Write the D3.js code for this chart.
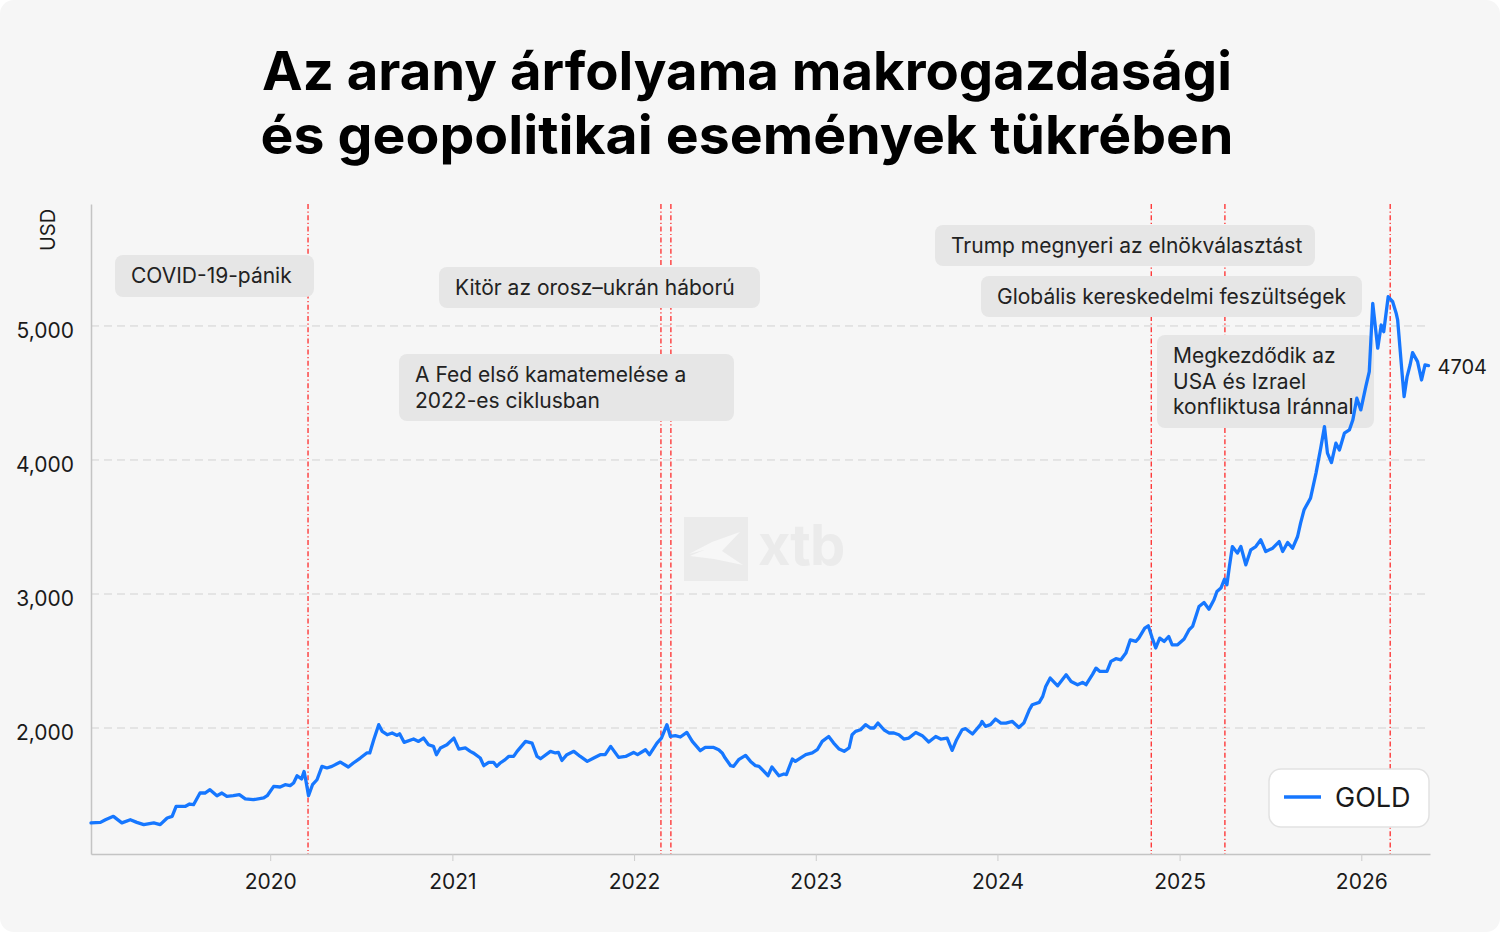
<!DOCTYPE html>
<html>
<head>
<meta charset="utf-8">
<script src="https://cdn.jsdelivr.net/npm/d3@7"></script>
<style>
  html, body { margin: 0; padding: 0; background: #ffffff; }
  svg { display: block; font-family: Inter, "Noto Sans", sans-serif; }
</style>
</head>
<body>
<svg id="chart" width="1500" height="932"></svg>
<script>
// weekly-ish gold closes
var dates = [
  '2019-01-06','2019-01-25','2019-02-04','2019-02-20','2019-03-09','2019-03-26','2019-04-08','2019-04-22',
  '2019-05-12','2019-05-25','2019-06-08','2019-06-18','2019-06-26','2019-07-14','2019-07-23','2019-07-31',
  '2019-08-13','2019-08-23','2019-09-02','2019-09-16','2019-09-26','2019-10-06','2019-10-19','2019-10-31',
  '2019-11-12','2019-11-28','2019-12-19','2019-12-26','2020-01-08','2020-01-21','2020-01-31','2020-02-10',
  '2020-02-17','2020-02-24','2020-03-04','2020-03-09','2020-03-13','2020-03-18','2020-03-26','2020-04-04',
  '2020-04-14','2020-04-24','2020-05-04','2020-05-21','2020-06-06','2020-06-16','2020-06-30','2020-07-13',
  '2020-07-19','2020-07-27','2020-08-06','2020-08-13','2020-08-23','2020-09-02','2020-09-12','2020-09-17',
  '2020-09-26','2020-10-15','2020-10-25','2020-11-04','2020-11-14','2020-11-24','2020-11-30','2020-12-08',
  '2020-12-21','2021-01-04','2021-01-14','2021-01-27','2021-02-06','2021-02-12','2021-02-26','2021-03-05',
  '2021-03-15','2021-03-25','2021-03-31','2021-04-07','2021-04-17','2021-04-24','2021-05-04','2021-05-11',
  '2021-05-28','2021-06-10','2021-06-20','2021-06-27','2021-07-17','2021-07-27','2021-08-02','2021-08-09',
  '2021-08-19','2021-09-02','2021-09-15','2021-09-29','2021-10-12','2021-10-25','2021-11-04','2021-11-15',
  '2021-12-01','2021-12-15','2021-12-31','2022-01-08','2022-01-24','2022-02-01','2022-02-16','2022-02-25',
  '2022-03-08','2022-03-15','2022-03-25','2022-04-04','2022-04-17','2022-04-28','2022-05-14','2022-05-24',
  '2022-06-10','2022-06-20','2022-06-27','2022-07-03','2022-07-14','2022-07-20','2022-07-30','2022-08-13',
  '2022-08-23','2022-09-02','2022-09-09','2022-09-19','2022-09-27','2022-10-05','2022-10-19','2022-10-29',
  '2022-11-03','2022-11-15','2022-11-21','2022-12-01','2022-12-12','2022-12-25','2023-01-04','2023-01-14',
  '2023-01-27','2023-02-06','2023-02-17','2023-02-27','2023-03-09','2023-03-15','2023-03-22','2023-04-01',
  '2023-04-11','2023-04-21','2023-04-28','2023-05-06','2023-05-18','2023-05-28','2023-06-07','2023-06-17',
  '2023-06-27','2023-07-07','2023-07-21','2023-08-03','2023-08-16','2023-08-30','2023-09-09','2023-09-22',
  '2023-10-02','2023-10-11','2023-10-22','2023-10-29','2023-11-12','2023-11-28','2023-12-01','2023-12-08',
  '2023-12-18','2023-12-28','2024-01-08','2024-01-18','2024-01-31','2024-02-13','2024-02-23','2024-03-05',
  '2024-03-11','2024-03-25','2024-04-01','2024-04-07','2024-04-16','2024-05-01','2024-05-18','2024-05-28',
  '2024-06-10','2024-06-20','2024-06-27','2024-07-10','2024-07-17','2024-07-25','2024-08-08','2024-08-16',
  '2024-08-26','2024-09-05','2024-09-15','2024-09-24','2024-10-05','2024-10-11','2024-10-23','2024-10-30',
  '2024-11-07','2024-11-14','2024-11-22','2024-12-01','2024-12-10','2024-12-17','2024-12-28','2025-01-10',
  '2025-01-20','2025-01-27','2025-02-09','2025-02-19','2025-03-01','2025-03-11','2025-03-17','2025-03-25',
  '2025-04-01','2025-04-06','2025-04-11','2025-04-17','2025-04-27','2025-05-04','2025-05-14','2025-05-24',
  '2025-06-03','2025-06-13','2025-06-23','2025-07-07','2025-07-20','2025-07-27','2025-08-06','2025-08-16',
  '2025-08-26','2025-09-01','2025-09-08','2025-09-21','2025-10-02','2025-10-12','2025-10-19','2025-10-25',
  '2025-11-02','2025-11-11','2025-11-18','2025-11-28','2025-12-08','2025-12-15','2025-12-23','2025-12-31',
  '2026-01-10','2026-01-17','2026-01-24','2026-02-03','2026-02-10','2026-02-15','2026-02-24','2026-03-05',
  '2026-03-12','2026-03-15','2026-03-25','2026-03-28','2026-04-03','2026-04-09','2026-04-14','2026-04-24',
  '2026-05-02','2026-05-09','2026-05-16'
];
var gold = [
  1292,1296,1316,1341,1292,1316,1296,1279,
  1292,1279,1329,1341,1415,1415,1433,1428,
  1515,1515,1540,1495,1515,1490,1495,1503,
  1471,1465,1478,1495,1565,1560,1577,1570,
  1590,1644,1620,1676,1602,1495,1577,1614,
  1714,1702,1714,1746,1709,1739,1776,1814,
  1814,1913,2025,1975,1950,1963,1945,1957,
  1893,1918,1900,1925,1875,1863,1801,1851,
  1875,1925,1843,1851,1826,1814,1776,1719,
  1743,1743,1714,1739,1764,1788,1788,1826,
  1900,1888,1788,1771,1826,1814,1818,1758,
  1801,1826,1788,1751,1776,1801,1801,1863,
  1781,1788,1818,1801,1838,1801,1888,1925,
  2025,1937,1943,1933,1967,1900,1831,1855,
  1855,1838,1814,1776,1719,1714,1764,1796,
  1751,1719,1714,1676,1644,1709,1644,1657,
  1652,1769,1751,1776,1801,1814,1838,1900,
  1937,1888,1843,1826,1851,1950,1975,1987,
  2025,2000,2000,2037,1987,1963,1963,1950,
  1918,1925,1967,1943,1896,1937,1918,1925,
  1833,1913,1987,1995,1955,2025,2049,2012,
  2025,2067,2037,2037,2049,2004,2037,2136,
  2174,2191,2236,2310,2373,2315,2397,2347,
  2323,2340,2323,2400,2447,2422,2422,2497,
  2517,2509,2559,2658,2646,2671,2746,2763,
  2671,2597,2671,2646,2683,2621,2621,2664,
  2733,2758,2907,2937,2887,2957,3019,3044,
  3110,3069,3205,3354,3305,3354,3218,3330,
  3354,3404,3317,3342,3391,3317,3384,3342,
  3429,3529,3628,3715,3902,4100,4249,4051,
  3981,4125,4075,4200,4224,4299,4461,4374,
  4547,4659,5169,4834,5007,4957,5218,5181,
  5095,5045,4597,4473,4622,4709,4801,4734,
  4597,4709,4704
];
var seriesName = 'GOLD';
var lastLabel = '4704';

var yTicks = [2000, 3000, 4000, 5000];
var xTicks = ['2020', '2021', '2022', '2023', '2024', '2025', '2026'];

var eventDates = ['2020-03-17', '2022-02-24', '2022-03-16', '2024-11-05', '2025-04-02', '2026-02-28'];
var eventLabels = [
  ['COVID-19-pánik'],
  ['Kitör az orosz–ukrán háború'],
  ['A Fed első kamatemelése a', '2022-es ciklusban'],
  ['Trump megnyeri az elnökválasztást'],
  ['Globális kereskedelmi feszültségek'],
  ['Megkezdődik az', 'USA és Izrael', 'konfliktusa Iránnal']
];
var titleLines = ['Az arany árfolyama makrogazdasági', 'és geopolitikai események tükrében'];

// layout of the note boxes (pixels), same order as the events
var noteBoxes = [
  { x: 115, y: 255, w: 199, h: 42 },
  { x: 439, y: 267, w: 321, h: 41 },
  { x: 399, y: 354, w: 335, h: 67 },
  { x: 935, y: 225, w: 380, h: 41 },
  { x: 981, y: 276, w: 381, h: 41 },
  { x: 1157, y: 335, w: 217, h: 93 }
];

var parse = d3.timeParse('%Y-%m-%d');
var data = dates.map(function (d, i) { return { date: parse(d), value: gold[i] }; });

var svg = d3.select('#chart');
var plot = { left: 91, right: 1430, top: 204, bottom: 854 };

// card background
svg.append('rect')
  .attr('x', 0).attr('y', 0).attr('width', 1500).attr('height', 932)
  .attr('rx', 14).attr('fill', '#f6f6f6');

// title
var title = svg.append('g').attr('class', 'title');
var titleWidths = [970, 973];
titleLines.forEach(function (t, i) {
  title.append('text')
    .attr('x', 747).attr('y', 90 + i * 64)
    .attr('text-anchor', 'middle')
    .attr('font-size', 54).attr('font-weight', 700)
    .attr('fill', '#000')
    .attr('textLength', titleWidths[i])
    .attr('lengthAdjust', 'spacingAndGlyphs')
    .text(t);
});

var x = d3.scaleTime()
  .domain([parse('2019-01-06'), parse('2026-05-19')])
  .range([plot.left, plot.right]);
var y = d3.scaleLinear()
  .domain([1060, 5910])
  .range([plot.bottom, plot.top]);

// grid
svg.append('g').selectAll('line').data(yTicks).enter().append('line')
  .attr('x1', plot.left).attr('x2', plot.right)
  .attr('y1', function (d) { return y(d); })
  .attr('y2', function (d) { return y(d); })
  .attr('stroke', '#d2d2d2').attr('stroke-width', 1)
  .attr('stroke-dasharray', '8,5');

// watermark
var wm = svg.append('g').attr('class', 'watermark');
wm.append('rect').attr('x', 684).attr('y', 517).attr('width', 64).attr('height', 64).attr('fill', '#ebebeb');
wm.append('polygon')
  .attr('points', '689,554 712,542 740,532 722,551 743,565 714,559 690,556 704,550')
  .attr('fill', '#f7f7f7');
wm.append('text').attr('x', 758).attr('y', 565)
  .attr('font-size', 56).attr('font-weight', 700).attr('fill', '#ebebeb')
  .attr('letter-spacing', -1)
  .text('xtb');

// axes
var xAxis = d3.axisBottom(x)
  .tickValues(xTicks.map(function (t) { return parse(t + '-01-01'); }))
  .tickFormat(d3.timeFormat('%Y'))
  .tickSizeInner(7).tickSizeOuter(0).tickPadding(13);
var gx = svg.append('g').attr('transform', 'translate(0,' + plot.bottom + ')').call(xAxis);
gx.select('.domain').attr('stroke', '#c4c4c4').attr('stroke-width', 1.5);
gx.selectAll('.tick line').attr('stroke', '#cccccc').attr('stroke-width', 1);
gx.selectAll('.tick text').attr('font-size', 21).attr('fill', '#1a1a1a').attr('font-family', 'Inter, sans-serif');

var yAxis = d3.axisLeft(y)
  .tickValues(yTicks)
  .tickFormat(d3.format(','))
  .tickSize(0).tickPadding(17);
var gy = svg.append('g').attr('transform', 'translate(' + plot.left + ',0)').call(yAxis);
gy.select('.domain').attr('stroke', '#c4c4c4').attr('stroke-width', 1.5);
gy.selectAll('.tick text').attr('font-size', 21).attr('fill', '#1a1a1a').attr('font-family', 'Inter, sans-serif')
  .attr('dy', '0.55em');

svg.append('text')
  .attr('transform', 'translate(55,230) rotate(-90)')
  .attr('text-anchor', 'middle')
  .attr('font-size', 20).attr('fill', '#1a1a1a')
  .text('USD');

// event lines
svg.append('g').selectAll('line').data(eventDates).enter().append('line')
  .attr('x1', function (d) { return x(parse(d)); })
  .attr('x2', function (d) { return x(parse(d)); })
  .attr('y1', plot.top).attr('y2', plot.bottom)
  .attr('stroke', '#ff1a1a').attr('stroke-width', 1.2)
  .attr('stroke-dasharray', '5,2.5,1.2,2.5');

// note boxes
var notes = svg.append('g').selectAll('g').data(eventLabels).enter().append('g');
notes.append('rect')
  .attr('x', function (d, i) { return noteBoxes[i].x; })
  .attr('y', function (d, i) { return noteBoxes[i].y; })
  .attr('width', function (d, i) { return noteBoxes[i].w; })
  .attr('height', function (d, i) { return noteBoxes[i].h; })
  .attr('rx', 8).attr('fill', '#e6e6e6');
notes.each(function (lines, i) {
  var b = noteBoxes[i];
  var g = d3.select(this);
  lines.forEach(function (l, j) {
    g.append('text')
      .attr('x', b.x + 16)
      .attr('y', b.y + 28 + j * 25.7)
      .attr('font-size', 21).attr('fill', '#222')
      .text(l);
  });
});

// gold line
var line = d3.line()
  .x(function (d) { return x(d.date); })
  .y(function (d) { return y(d.value); });
svg.append('path').datum(data)
  .attr('d', line)
  .attr('fill', 'none')
  .attr('stroke', '#1677ff').attr('stroke-width', 3.3)
  .attr('stroke-linejoin', 'round').attr('stroke-linecap', 'round');

var last = data[data.length - 1];
svg.append('text')
  .attr('x', x(last.date) + 9).attr('y', y(last.value) + 8)
  .attr('font-size', 20).attr('fill', '#1a1a1a')
  .text(lastLabel);

// legend
var legend = svg.append('g').attr('transform', 'translate(1269,769)');
legend.append('rect')
  .attr('width', 160).attr('height', 58).attr('rx', 12)
  .attr('fill', '#ffffff').attr('stroke', '#e2e2e2').attr('stroke-width', 1.5);
legend.append('line')
  .attr('x1', 15).attr('x2', 52).attr('y1', 28).attr('y2', 28)
  .attr('stroke', '#1677ff').attr('stroke-width', 3.5);
legend.append('text')
  .attr('x', 66).attr('y', 38)
  .attr('font-size', 27).attr('fill', '#1a1a1a')
  .text(seriesName);
</script>
</body>
</html>
